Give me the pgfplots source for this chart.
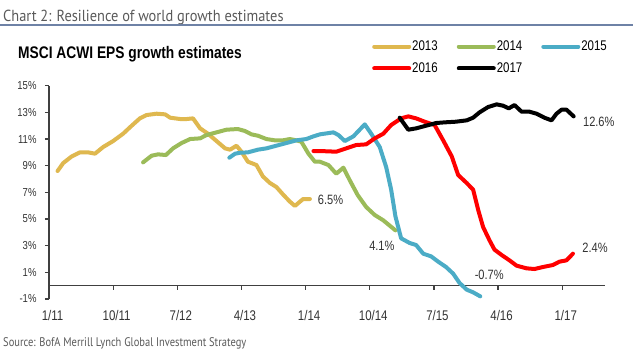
\documentclass[border=0pt]{standalone}
\usepackage{pgfplots}
\pgfplotsset{compat=1.18}
\usepackage{fontspec}
\setmainfont{Liberation Sans}[FakeStretch=0.82]
\newfontfamily\titlefont{PT Sans}[FakeStretch=0.9]
\newfontfamily\srcfont{PT Sans}[FakeStretch=0.84]
\definecolor{c2013}{HTML}{DFB84F}
\definecolor{c2014}{HTML}{9BBB59}
\definecolor{c2015}{HTML}{4BACC6}
\definecolor{c2016}{HTML}{FF0000}
\definecolor{c2017}{HTML}{000000}
\definecolor{axisgray}{HTML}{404040}
\definecolor{rulecol}{HTML}{6E82A6}
\definecolor{titlegray}{HTML}{5A5A5A}
\definecolor{labgray}{HTML}{333333}
\begin{document}
\begin{tikzpicture}
\path[use as bounding box, fill=white] (0,0) rectangle (640bp,-360bp);
\node[anchor=base west, inner sep=0pt, text=titlegray, font=\titlefont\fontsize{16bp}{18bp}\selectfont] at (3bp,-21bp) {Chart 2: Resilience of world growth estimates};
\draw[rulecol, line width=1.4bp] (0bp,-25bp) -- (633bp,-25bp);
\node[anchor=base west, inner sep=0pt, font=\bfseries\fontsize{16.8bp}{18bp}\selectfont] at (18bp,-58.3bp) {MSCI ACWI EPS growth estimates};
\node[anchor=base west, inner sep=0pt, text=titlegray, font=\srcfont\fontsize{12.5bp}{14bp}\selectfont] at (3bp,-346bp) {Source: BofA Merrill Lynch Global Investment Strategy};
\begin{axis}[
  at={(49bp,-299bp)}, anchor=south west,
  scale only axis, width=556bp, height=213.3bp,
  xmin=0, xmax=78, ymin=-1, ymax=15,
  axis x line=middle, axis y line=left,
  every inner x axis line/.append style={-},
  every outer y axis line/.append style={-},
  axis line style={draw=axisgray, line width=1.2bp, -},
  hide obscured x ticks=false, hide obscured y ticks=false,
  tick align=outside,
  major tick length=4bp,
  tick style={draw=axisgray, line width=1.2bp},
  xtick={0,9,18,27,36,45,54,63,72},
  xticklabels={1/11,10/11,7/12,4/13,1/14,10/14,7/15,4/16,1/17},
  ytick={-1,1,3,5,7,9,11,13,15},
  yticklabels={-1\%,1\%,3\%,5\%,7\%,9\%,11\%,13\%,15\%},
  xticklabel style={font=\fontsize{14bp}{16bp}\selectfont, text=labgray, yshift=-17bp, xshift=3.5bp},
  yticklabel style={font=\fontsize{11.6bp}{13bp}\selectfont, text=labgray, xshift=-5bp},
  clip=false,
  legend columns=3,
  legend style={at={(0.581,1.132)}, anchor=west, draw=none, fill=none,
    inner sep=0pt, row sep=8.6bp,
    font=\fontsize{14bp}{16bp}\selectfont,
    nodes={inner sep=1bp},
    /tikz/every even column/.append style={column sep=18bp}},
  legend image code/.code={\draw[#1, line width=4bp, line cap=round] (0bp,0bp) -- (35bp,0bp);},
  every axis plot/.append style={line width=4bp, line join=round, line cap=round},
]
\addplot[c2013] coordinates {(1.2,8.6) (2.0,9.2) (3.2,9.7) (4.35,10.0) (5.5,10.0) (6.45,9.9) (7.6,10.4) (9.0,10.85) (10.4,11.4) (11.6,12.0) (12.75,12.55) (13.7,12.8) (15.1,12.9) (16.3,12.85) (17.0,12.6) (18.4,12.5) (19.3,12.5) (20.2,12.55) (21.2,11.8) (22.3,11.4) (23.5,10.85) (24.7,10.3) (25.4,10.2) (26.3,10.5) (27.0,10.05) (27.9,9.3) (29.1,9.05) (30.0,8.2) (31.0,7.7) (31.9,7.4) (32.9,6.8) (33.8,6.3) (34.5,5.98) (35.2,6.3) (35.65,6.5) (36.6,6.5)};
\addlegendentry{2013}
\addplot[c2014] coordinates {(13.2,9.25) (14.4,9.75) (15.3,9.85) (16.4,9.8) (17.4,10.3) (18.6,10.7) (19.8,11.0) (21.2,11.05) (22.1,11.3) (23.5,11.5) (24.9,11.7) (26.5,11.75) (27.5,11.6) (28.4,11.35) (29.3,11.25) (30.5,11.0) (31.7,10.9) (32.8,10.9) (33.8,11.0) (34.7,10.9) (35.4,10.8) (36.4,9.9) (37.3,9.3) (38.0,9.3) (39.2,9.05) (40.3,8.4) (41.3,8.85) (42.2,7.9) (43.3,6.8) (44.5,5.9) (45.7,5.3) (46.9,4.9) (48.6,4.15)};
\addlegendentry{2014}
\addplot[c2015] coordinates {(25.3,9.6) (26.1,9.9) (26.8,9.97) (27.9,10.0) (29.3,10.2) (30.5,10.3) (31.9,10.5) (33.3,10.7) (34.7,10.9) (36.1,11.0) (37.1,11.2) (38.0,11.35) (39.9,11.5) (40.6,11.3) (41.5,10.85) (42.7,11.2) (44.3,12.1) (45.2,11.4) (46.4,10.4) (47.3,8.9) (48.0,7.2) (48.6,5.2) (49.4,3.55) (50.6,3.2) (51.5,3.05) (52.5,2.4) (53.6,2.2) (54.6,1.8) (55.7,1.4) (56.7,0.9) (57.6,0.2) (58.6,-0.3) (59.5,-0.5) (60.5,-0.8)};
\addlegendentry{2015}
\addplot[c2016] coordinates {(37.1,10.1) (38.0,10.1) (40.3,10.05) (41.7,10.3) (43.1,10.55) (44.5,10.6) (45.7,11.05) (46.9,11.4) (48.0,12.05) (49.4,12.55) (50.4,12.7) (51.5,12.55) (52.7,12.3) (54.1,12.05) (55.3,10.9) (56.5,9.7) (57.4,8.3) (58.6,7.7) (59.5,7.2) (60.2,5.7) (60.9,4.4) (61.8,3.4) (62.5,2.7) (63.5,2.3) (64.6,1.9) (65.6,1.5) (67.0,1.3) (68.1,1.25) (69.3,1.4) (70.7,1.55) (71.6,1.8) (72.6,1.9) (73.5,2.4)};
\addlegendentry{2016}
\addplot[c2017] coordinates {(49.2,12.6) (50.4,11.7) (51.5,11.8) (52.9,12.0) (54.3,12.2) (55.5,12.25) (57.1,12.3) (58.6,12.4) (59.5,12.6) (60.4,13.0) (61.6,13.4) (62.8,13.6) (63.7,13.5) (64.5,13.3) (65.3,13.55) (66.3,13.05) (67.4,13.05) (68.4,12.9) (69.5,12.6) (70.5,12.4) (71.2,12.9) (71.9,13.2) (72.6,13.2) (73.6,12.7)};
\addlegendentry{2017}
\node[anchor=west, inner sep=0pt, text=labgray, font=\fontsize{13.5bp}{15bp}\selectfont] at (axis cs:37.7,6.43) {6.5\%};
\node[anchor=west, inner sep=0pt, text=labgray, font=\fontsize{13.5bp}{15bp}\selectfont] at (axis cs:44.9,2.98) {4.1\%};
\node[anchor=west, inner sep=0pt, text=labgray, font=\fontsize{13.5bp}{15bp}\selectfont] at (axis cs:59.7,0.8) {-0.7\%};
\node[anchor=west, inner sep=0pt, text=labgray, font=\fontsize{13.5bp}{15bp}\selectfont] at (axis cs:74.8,2.83) {2.4\%};
\node[anchor=west, inner sep=0pt, text=labgray, font=\fontsize{13.5bp}{15bp}\selectfont] at (axis cs:74.9,12.3) {12.6\%};
\end{axis}
\end{tikzpicture}
\end{document}
